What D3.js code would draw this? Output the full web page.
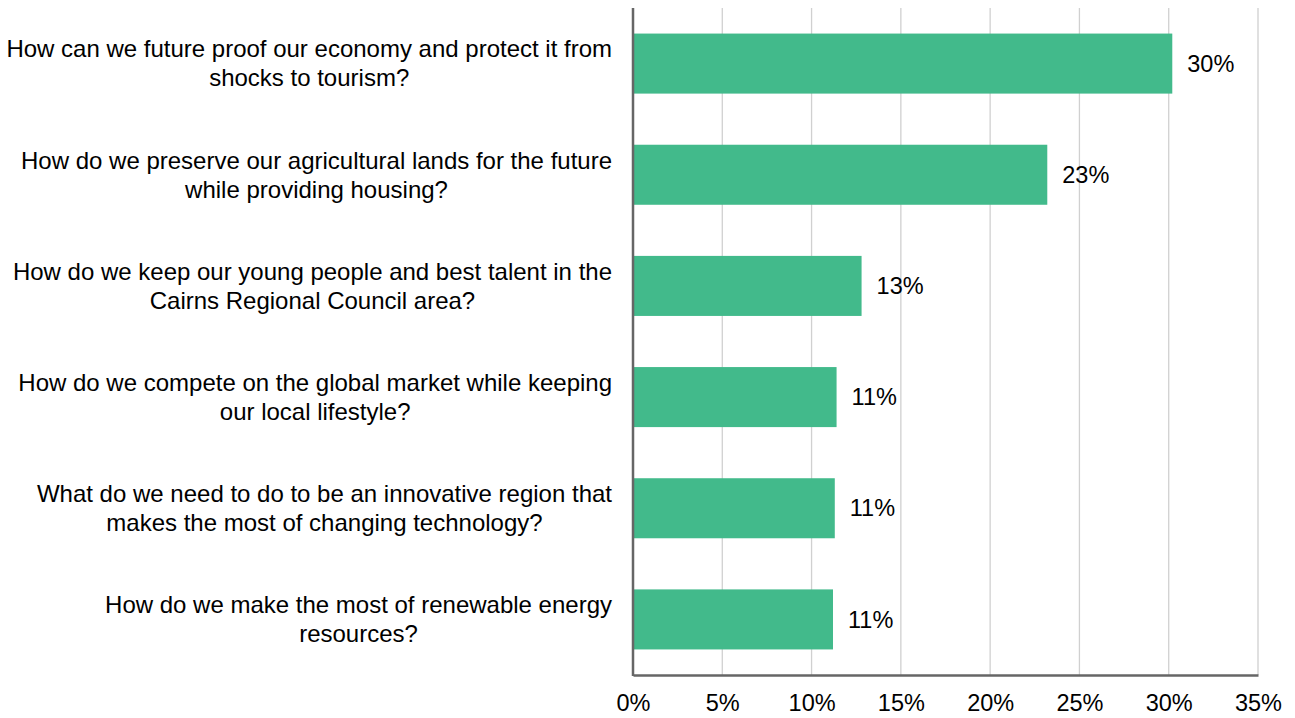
<!DOCTYPE html>
<html>
<head>
<meta charset="utf-8">
<script src="https://cdn.jsdelivr.net/npm/d3@7"></script>
<style>
  body { margin: 0; background: #fff; }
  text { font-family: "Liberation Sans", Arial, sans-serif; fill: #000; }
</style>
</head>
<body>
<div id="chart"></div>
<script>
// questions, each split into its two display lines
const questions = [
  ["How can we future proof our economy and protect it from", "shocks to tourism?"],
  ["How do we preserve our agricultural lands for the future", "while providing housing?"],
  ["How do we keep our young people and best talent in the", "Cairns Regional Council area?"],
  ["How do we compete on the global market while keeping", "our local lifestyle?"],
  ["What do we need to do to be an innovative region that", "makes the most of changing technology?"],
  ["How do we make the most of renewable energy", "resources?"]
];
const shares = [0.302, 0.232, 0.128, 0.114, 0.113, 0.112];
const valueLabels = ["30%", "23%", "13%", "11%", "11%", "11%"];
const xTicks = [0, 0.05, 0.10, 0.15, 0.20, 0.25, 0.30, 0.35];

const width = 1295, height = 718;
const margin = {top: 8, right: 37, bottom: 43, left: 633};
const innerW = width - margin.left - margin.right;
const innerH = height - margin.top - margin.bottom;
const fontSize = 23.5;
const catFontSize = 24;

const svg = d3.select("#chart")
    .append("svg")
    .attr("width", width)
    .attr("height", height);

const g = svg.append("g")
    .attr("transform", "translate(" + margin.left + "," + margin.top + ")");

const x = d3.scaleLinear()
    .domain([0, 0.35])
    .range([0, innerW]);

const y = d3.scaleBand()
    .domain(d3.range(questions.length))
    .range([0, innerH])
    .paddingInner(0.46)
    .paddingOuter(0.23);

// vertical gridlines
g.append("g")
    .selectAll("line")
    .data(xTicks.slice(1))
    .join("line")
    .attr("x1", d => x(d))
    .attr("x2", d => x(d))
    .attr("y1", 0)
    .attr("y2", innerH)
    .attr("stroke", "#d0d0d0")
    .attr("stroke-width", 1.3);

// bars
g.selectAll("rect.bar")
    .data(shares)
    .join("rect")
    .attr("class", "bar")
    .attr("x", 0)
    .attr("y", (d, i) => y(i))
    .attr("width", d => x(d))
    .attr("height", y.bandwidth())
    .attr("fill", "#42ba8b");

// value labels
g.selectAll("text.val")
    .data(shares)
    .join("text")
    .attr("class", "val")
    .attr("x", d => x(d) + 15)
    .attr("y", (d, i) => y(i) + y.bandwidth() / 2)
    .attr("dy", "0.35em")
    .style("font-size", fontSize + "px")
    .text((d, i) => valueLabels[i]);

// x axis
const xAxis = g.append("g")
    .attr("transform", "translate(0," + innerH + ")")
    .call(d3.axisBottom(x).tickValues(xTicks).tickFormat(d3.format(".0%")).tickSize(0).tickPadding(19));
xAxis.select(".domain").attr("stroke", "#666").attr("stroke-width", 2.5);
xAxis.selectAll("text").style("font-size", fontSize + "px").attr("fill", "#000");

// y axis line
g.append("line")
    .attr("x1", 0).attr("x2", 0)
    .attr("y1", 0).attr("y2", innerH + 1)
    .attr("stroke", "#666")
    .attr("stroke-width", 2.5);

// category labels: first line right-aligned, second centred under it
const lineGap = 29;
const labelRight = -21;
const cats = g.selectAll("g.cat")
    .data(questions)
    .join("g")
    .attr("class", "cat")
    .attr("transform", (d, i) => "translate(" + labelRight + "," + (y(i) + y.bandwidth() / 2) + ")");

const first = cats.append("text")
    .attr("text-anchor", "end")
    .attr("y", -lineGap / 2)
    .attr("dy", "0.35em")
    .style("font-size", catFontSize + "px")
    .text(d => d[0]);

cats.append("text")
    .attr("text-anchor", "middle")
    .attr("y", lineGap / 2)
    .attr("dy", "0.35em")
    .style("font-size", catFontSize + "px")
    .text(d => d[1]);

first.each(function() {
    const w = this.getComputedTextLength();
    d3.select(this.parentNode).select("text:nth-child(2)").attr("x", -w / 2);
});
</script>
</body>
</html>
